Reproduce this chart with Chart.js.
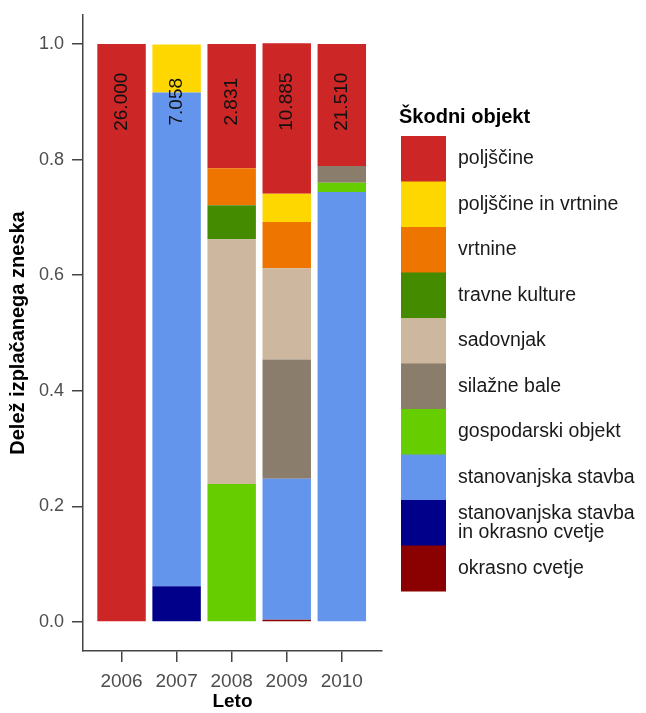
<!DOCTYPE html>
<html>
<head>
<meta charset="utf-8">
<script src="https://cdn.jsdelivr.net/npm/chart.js@4/dist/chart.umd.min.js"></script>
<style>
  html, body { margin: 0; padding: 0; background: #fff; }
  #wrap { width: 646px; height: 713px; }
</style>
</head>
<body>
<div id="wrap"><canvas id="chart" width="646" height="713"></canvas></div>
<script>
// data (share of payout per year)
const years = ['2006', '2007', '2008', '2009', '2010']
const totals = ['26.000', '7.058', '2.831', '10.885', '21.510']

const poljscine = [1.0, 0, 0.215, 0.260, 0.211]
const poljscineInVrtnine = [0, 0.083, 0, 0.049, 0]
const vrtnine = [0, 0, 0.064, 0.080, 0]
const travneKulture = [0, 0, 0.059, 0, 0]
const sadovnjak = [0, 0, 0.423, 0.158, 0]
const silazneBale = [0, 0, 0, 0.206, 0.029]
const gospodarskiObjekt = [0, 0, 0.239, 0, 0.016]
const stanovanjskaStavba = [0, 0.854, 0, 0.244, 0.744]
const stanovanjskaInOkrasno = [0, 0.062, 0, 0, 0]
const okrasnoCvetje = [0, 0, 0, 0.004, 0]

const yTicks = [0, 0.2, 0.4, 0.6, 0.8, 1.0]

// legend order = top of the stack first
const series = [
  { label: ['poljščine'], data: poljscine, color: '#CD2626' },
  { label: ['poljščine in vrtnine'], data: poljscineInVrtnine, color: '#FFD700' },
  { label: ['vrtnine'], data: vrtnine, color: '#EE7600' },
  { label: ['travne kulture'], data: travneKulture, color: '#458B00' },
  { label: ['sadovnjak'], data: sadovnjak, color: '#CDB79E' },
  { label: ['silažne bale'], data: silazneBale, color: '#8B7D6B' },
  { label: ['gospodarski objekt'], data: gospodarskiObjekt, color: '#66CD00' },
  { label: ['stanovanjska stavba'], data: stanovanjskaStavba, color: '#6495ED' },
  { label: ['stanovanjska stavba', 'in okrasno cvetje'], data: stanovanjskaInOkrasno, color: '#00008B' },
  { label: ['okrasno cvetje'], data: okrasnoCvetje, color: '#8B0000' },
]

const FONT = '"Liberation Sans", Arial, Helvetica, sans-serif'

// chart.js stacks the first dataset at the bottom, so reverse
const datasets = series.slice().reverse().map(s => ({
  label: s.label.join(' '),
  data: s.data.map((v, i) => ({ x: i, y: v })),
  backgroundColor: s.color,
  borderWidth: 0,
  barPercentage: 0.88,
  categoryPercentage: 1.0,
}))

const barLabels = {
  id: 'barLabels',
  afterDatasetsDraw(chart) {
    const ctx = chart.ctx
    const xs = chart.scales.x
    const ys = chart.scales.y
    ctx.save()
    ctx.font = '19px ' + FONT
    ctx.fillStyle = '#111'
    ctx.textAlign = 'center'
    ctx.textBaseline = 'middle'
    totals.forEach((t, i) => {
      ctx.save()
      ctx.translate(xs.getPixelForValue(i), ys.getPixelForValue(0.9))
      ctx.rotate(-Math.PI / 2)
      ctx.fillText(t, 0, 0)
      ctx.restore()
    })
    ctx.restore()
  }
}

const sideLegend = {
  id: 'sideLegend',
  afterDraw(chart) {
    const ctx = chart.ctx
    const left = 401
    const top = 136
    const keyW = 45
    const keyH = 45.5
    ctx.save()
    ctx.fillStyle = '#000'
    ctx.font = 'bold 20px ' + FONT
    ctx.textAlign = 'left'
    ctx.textBaseline = 'middle'
    ctx.fillText('Škodni objekt', 399, 117)
    ctx.font = '19.5px ' + FONT
    series.forEach((s, i) => {
      const y = top + i * keyH
      ctx.fillStyle = s.color
      ctx.fillRect(left, y, keyW, keyH + 0.5)
      ctx.fillStyle = '#1a1a1a'
      const mid = y + keyH / 2
      const lh = 19
      s.label.forEach((line, j) => {
        ctx.fillText(line, 458, mid + (j - (s.label.length - 1) / 2) * lh)
      })
    })
    ctx.restore()
  }
}

new Chart(document.getElementById('chart'), {
  type: 'bar',
  data: { datasets },
  options: {
    responsive: false,
    animation: false,
    devicePixelRatio: 1,
    layout: { padding: { top: 15, right: 264, bottom: 0, left: 0 } },
    plugins: {
      legend: { display: false },
      tooltip: { enabled: false },
    },
    scales: {
      x: {
        type: 'linear',
        stacked: true,
        min: -0.7,
        max: 4.73,
        offset: false,
        grid: { offset: false, drawOnChartArea: false, drawTicks: true, tickLength: 11, color: '#444', lineWidth: 1.5 },
        border: { display: true, color: '#444', width: 1.5 },
        ticks: {
          font: { size: 19, family: FONT },
          color: '#4d4d4d',
          padding: 8,
          maxRotation: 0,
          callback: v => years[v],
        },
        afterBuildTicks: s => { s.ticks = years.map((_, i) => ({ value: i })) },
        afterFit: s => { s.height = 62; s.paddingLeft = 0; s.paddingRight = 0 },
        title: {
          display: true,
          text: 'Leto',
          color: '#000',
          font: { size: 19, weight: 'bold', family: FONT },
          padding: { top: 0, bottom: 0 },
        },
      },
      y: {
        stacked: true,
        min: -0.05,
        max: 1.05,
        grid: { drawOnChartArea: false, drawTicks: true, tickLength: 11, color: '#444', lineWidth: 1.5 },
        border: { display: true, color: '#444', width: 1.5 },
        ticks: {
          font: { size: 18, family: FONT },
          color: '#4d4d4d',
          padding: 8,
          callback: v => v.toFixed(1),
        },
        afterBuildTicks: s => { s.ticks = yTicks.map(v => ({ value: v })) },
        afterFit: s => { s.width = 83; s.paddingTop = 0; s.paddingBottom = 0 },
        title: {
          display: true,
          text: 'Delež izplačanega zneska',
          color: '#000',
          font: { size: 20, weight: 'bold', family: FONT },
          padding: { top: 6, bottom: 0 },
        },
      },
    },
  },
  plugins: [barLabels, sideLegend],
})
</script>
</body>
</html>
